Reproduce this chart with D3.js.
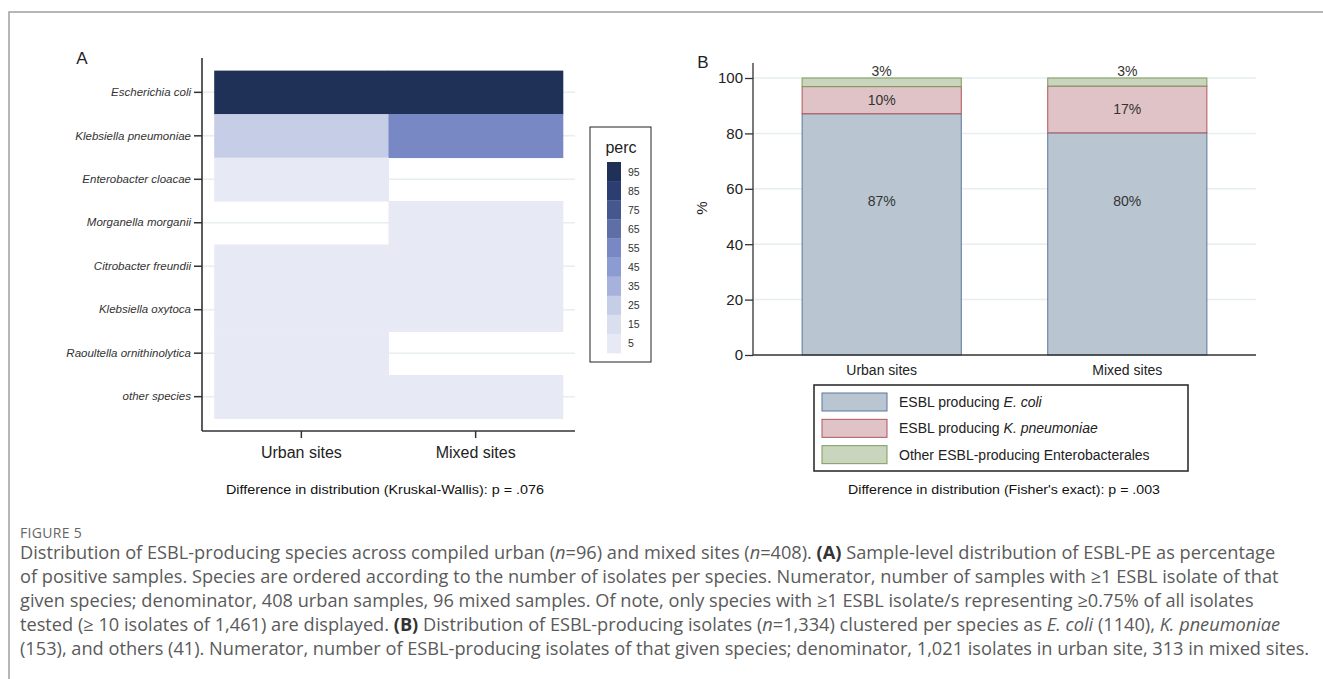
<!DOCTYPE html>
<html>
<head>
<meta charset="utf-8">
<script src="https://cdn.jsdelivr.net/npm/d3@7"></script>
<style>
  body { margin: 0; background: #fff; }
  svg { display: block; font-family: "Liberation Sans", Arial, sans-serif; }
</style>
</head>
<body>
<svg id="fig" width="1323" height="679"></svg>
<script>
// ---- panel A data: % of positive samples per species ----
const species = ['Escherichia coli', 'Klebsiella pneumoniae', 'Enterobacter cloacae',
  'Morganella morganii', 'Citrobacter freundii', 'Klebsiella oxytoca',
  'Raoultella ornithinolytica', 'other species'];
const sitesA = ['Urban sites', 'Mixed sites'];
const urbanPerc = [94, 22, 4, null, 3, 3, 2, 3];
const mixedPerc = [93, 52, null, 4, 3, 5, null, 6];
const percBins = [5, 15, 25, 35, 45, 55, 65, 75, 85, 95];
const percColors = ['#e7e9f5', '#dadff0', '#c6cde6', '#a7b2dc', '#8b9cd2',
  '#7788c4', '#5e6fa8', '#45578f', '#2c3e71', '#1f3157'];

// ---- panel B data: % of ESBL-producing isolates ----
const sitesB = ['Urban sites', 'Mixed sites'];
const groups = ['ecoli', 'kpneu', 'other'];
const ecoliPct = [87.1, 80.2];
const kpneuPct = [9.8, 16.9];
const otherPct = [3.1, 2.9];
const yTicksB = [0, 20, 40, 60, 80, 100];
const groupFill = ['#b9c6d2', '#dfc3c6', '#c9d6bd'];
const groupStroke = ['#5a769c', '#b0545b', '#7f9a5c'];

const svg = d3.select('#fig');
const axisCol = '#333';
const gridCol = '#e6eeee';

// outer frame of the figure
svg.append('path')
  .attr('d', 'M9,679V12H1323')
  .attr('fill', 'none')
  .attr('stroke', '#a0a0a0')
  .attr('stroke-width', 1.5);

// ================= PANEL A =================
const A = {l: 202, r: 575, t: 58, b: 431};
const gA = svg.append('g');

const xA = d3.scaleBand().domain(sitesA).range([A.l, A.r]).paddingOuter(0.07).paddingInner(0);
const yA = d3.scaleBand().domain(species).range([A.t, A.b]).paddingOuter(0.29).paddingInner(0);
const colA = d3.scaleQuantize().domain([0, 100]).range(percColors);

// grid lines at row centres
gA.selectAll('.gridA').data(species).join('line')
  .attr('x1', A.l).attr('x2', A.r)
  .attr('y1', d => yA(d) + yA.bandwidth() / 2)
  .attr('y2', d => yA(d) + yA.bandwidth() / 2)
  .attr('stroke', gridCol).attr('stroke-width', 1.5);

const cells = [];
species.forEach((s, i) => {
  if (urbanPerc[i] != null) cells.push({site: sitesA[0], sp: s, v: urbanPerc[i]});
  if (mixedPerc[i] != null) cells.push({site: sitesA[1], sp: s, v: mixedPerc[i]});
});
gA.selectAll('.cell').data(cells).join('rect')
  .attr('x', d => xA(d.site))
  .attr('y', d => yA(d.sp))
  .attr('width', xA.bandwidth() + 0.5)
  .attr('height', yA.bandwidth() + 0.5)
  .attr('fill', d => colA(d.v));

// y axis
const yAxisA = gA.append('g')
  .attr('transform', `translate(${A.l},0)`)
  .call(d3.axisLeft(yA).tickSize(8).tickPadding(3));
yAxisA.select('.domain').attr('d', `M0,${A.t}V${A.b}`).attr('stroke', axisCol).attr('stroke-width', 1.6);
yAxisA.selectAll('.tick line').attr('stroke', axisCol).attr('stroke-width', 1.5);
yAxisA.selectAll('.tick text')
  .attr('font-size', 11.5).attr('font-style', 'italic').attr('fill', '#333')
  .attr('font-family', '"Liberation Sans", Arial, sans-serif');

// x axis
const xAxisA = gA.append('g')
  .attr('transform', `translate(0,${A.b})`)
  .call(d3.axisBottom(xA).tickSize(7).tickPadding(9));
xAxisA.select('.domain').attr('d', `M${A.l},0H${A.r}`).attr('stroke', axisCol).attr('stroke-width', 1.6);
xAxisA.selectAll('.tick line').attr('stroke', axisCol).attr('stroke-width', 1.5);
xAxisA.selectAll('.tick text')
  .attr('font-size', 16).attr('fill', '#222')
  .attr('font-family', '"Liberation Sans", Arial, sans-serif');

gA.append('text').attr('x', 82).attr('y', 64).attr('text-anchor', 'middle')
  .attr('font-size', 17).attr('fill', '#222').text('A');

// legend "perc"
const legA = gA.append('g').attr('transform', 'translate(590,127)');
legA.append('rect').attr('width', 61).attr('height', 235)
  .attr('fill', '#fff').attr('stroke', '#222').attr('stroke-width', 1);
legA.append('text').attr('x', 31).attr('y', 26).attr('text-anchor', 'middle')
  .attr('font-size', 16).attr('fill', '#222').text('perc');
const legScale = d3.scaleBand().domain(percBins.slice().reverse()).range([35, 226]);
legA.selectAll('.sw').data(percBins.slice().reverse()).join('rect')
  .attr('x', 17).attr('y', d => legScale(d))
  .attr('width', 14).attr('height', legScale.bandwidth() + 0.3)
  .attr('fill', d => colA(d));
legA.selectAll('.swl').data(percBins.slice().reverse()).join('text')
  .attr('x', 38).attr('y', d => legScale(d) + legScale.bandwidth() / 2 + 4)
  .attr('font-size', 10.5).attr('fill', '#333').text(d => d);

gA.append('text').attr('x', 385).attr('y', 494).attr('text-anchor', 'middle')
  .attr('font-size', 13).attr('textLength', 318).attr('lengthAdjust', 'spacingAndGlyphs')
  .attr('fill', '#111').text('Difference in distribution (Kruskal-Wallis): p = .076');

// ================= PANEL B =================
const B = {l: 753, r: 1256, t: 63, b: 355};
const gB = svg.append('g');

const xB = d3.scaleBand().domain(sitesB).range([B.l, B.r]).paddingInner(0.352).paddingOuter(0.2);
const yB = d3.scaleLinear().domain([0, 100]).range([B.b, 78]);

gB.selectAll('.gridB').data(yTicksB.slice(1)).join('line')
  .attr('x1', B.l).attr('x2', B.r)
  .attr('y1', d => yB(d)).attr('y2', d => yB(d))
  .attr('stroke', gridCol).attr('stroke-width', 1.5);

const tableB = sitesB.map((s, i) => ({site: s, ecoli: ecoliPct[i], kpneu: kpneuPct[i], other: otherPct[i]}));
const stacked = d3.stack().keys(groups)(tableB);

const segs = gB.selectAll('.layer').data(stacked).join('g');
segs.selectAll('rect').data((d, gi) => d.map(p => ({p, gi}))).join('rect')
  .attr('x', d => xB(d.p.data.site))
  .attr('y', d => yB(d.p[1]))
  .attr('width', xB.bandwidth())
  .attr('height', d => yB(d.p[0]) - yB(d.p[1]))
  .attr('fill', d => groupFill[d.gi])
  .attr('stroke', d => groupStroke[d.gi])
  .attr('stroke-width', 1);

// bar labels
segs.selectAll('text').data((d, gi) => d.map(p => ({p, gi}))).join('text')
  .attr('x', d => xB(d.p.data.site) + xB.bandwidth() / 2)
  .attr('y', d => {
    const v = d.p[1] - d.p[0];
    if (v < 5) return yB(d.p[1]) - 2;            // small slice: above the bar
    if (v > 50) return yB(55.5) + 5;              // large base slice
    return yB((d.p[0] + d.p[1]) / 2) + 5;
  })
  .attr('text-anchor', 'middle').attr('font-size', 14).attr('fill', '#333')
  .text(d => Math.round(d.p[1] - d.p[0]) + '%');

const yAxisB = gB.append('g')
  .attr('transform', `translate(${B.l},0)`)
  .call(d3.axisLeft(yB).tickValues(yTicksB).tickSize(8).tickPadding(2));
yAxisB.select('.domain').attr('d', `M0,${B.t}V${B.b}`).attr('stroke', axisCol).attr('stroke-width', 1.3);
yAxisB.selectAll('.tick line').attr('stroke', axisCol).attr('stroke-width', 1.3);
yAxisB.selectAll('.tick text').attr('font-size', 15).attr('fill', '#222')
  .attr('font-family', '"Liberation Sans", Arial, sans-serif');

const xAxisB = gB.append('g')
  .attr('transform', `translate(0,${B.b})`)
  .call(d3.axisBottom(xB).tickSize(0).tickPadding(10));
xAxisB.select('.domain').attr('d', `M${B.l},0H${B.r}`).attr('stroke', axisCol).attr('stroke-width', 1.3);
xAxisB.selectAll('.tick text').attr('font-size', 14).attr('fill', '#222')
  .attr('font-family', '"Liberation Sans", Arial, sans-serif');

gB.append('text').attr('x', 703).attr('y', 68).attr('text-anchor', 'middle')
  .attr('font-size', 17).attr('fill', '#222').text('B');
gB.append('text').attr('transform', 'translate(707,208) rotate(-90)')
  .attr('text-anchor', 'middle').attr('font-size', 15).attr('fill', '#222').text('%');

// legend B
const legItems = [
  [['ESBL producing ', false], ['E. coli', true]],
  [['ESBL producing ', false], ['K. pneumoniae', true]],
  [['Other ESBL-producing Enterobacterales', false]]
];
const legB = gB.append('g').attr('transform', 'translate(814,385)');
legB.append('rect').attr('width', 374).attr('height', 86)
  .attr('fill', '#fff').attr('stroke', '#222').attr('stroke-width', 1.5);
const legRow = d3.scaleBand().domain(groups).range([5, 84]);
groups.forEach((g, i) => {
  legB.append('rect').attr('x', 8).attr('y', legRow(g) + 3)
    .attr('width', 65).attr('height', 18)
    .attr('fill', groupFill[i]).attr('stroke', groupStroke[i]).attr('stroke-width', 1);
  const t = legB.append('text').attr('x', 85).attr('y', legRow(g) + 17)
    .attr('font-size', 14).attr('fill', '#222');
  legItems[i].forEach(([s, it]) => t.append('tspan').attr('font-style', it ? 'italic' : 'normal').text(s));
});

gB.append('text').attr('x', 1004).attr('y', 494).attr('text-anchor', 'middle')
  .attr('font-size', 13).attr('textLength', 312).attr('lengthAdjust', 'spacingAndGlyphs')
  .attr('fill', '#111').text("Difference in distribution (Fisher's exact): p = .003");

// ================= CAPTION =================
const capFont = '"Open Sans", "Noto Sans", sans-serif';
svg.append('text').attr('x', 20).attr('y', 538).attr('font-family', capFont)
  .attr('font-size', 14).attr('fill', '#666').attr('letter-spacing', 0.3).text('FIGURE 5');

const capLines = [
  [['Distribution of ESBL-producing species across compiled urban (', ''], ['n', 'i'], ['=96) and mixed sites (', ''], ['n', 'i'], ['=408). ', ''], ['(A)', 'b'], [' Sample-level distribution of ESBL-PE as percentage', '']],
  [['of positive samples. Species are ordered according to the number of isolates per species. Numerator, number of samples with \u22651 ESBL isolate of that', '']],
  [['given species; denominator, 408 urban samples, 96 mixed samples. Of note, only species with \u22651 ESBL isolate/s representing \u22650.75% of all isolates', '']],
  [['tested (\u2265 10 isolates of 1,461) are displayed. ', ''], ['(B)', 'b'], [' Distribution of ESBL-producing isolates (', ''], ['n', 'i'], ['=1,334) clustered per species as ', ''], ['E. coli', 'i'], [' (1140), ', ''], ['K. pneumoniae', 'i']],
  [['(153), and others (41). Numerator, number of ESBL-producing isolates of that given species; denominator, 1,021 isolates in urban site, 313 in mixed sites.', '']]
];
const capY = d3.scaleLinear().domain([0, 4]).range([559, 655]);
capLines.forEach((parts, i) => {
  const t = svg.append('text').attr('x', 20).attr('y', capY(i))
    .attr('font-family', capFont).attr('font-size', 18.2).attr('fill', '#5a5a5a');
  parts.forEach(([s, f]) => t.append('tspan')
    .attr('font-style', f === 'i' ? 'italic' : 'normal')
    .attr('font-weight', f === 'b' ? 'bold' : 'normal')
    .attr('fill', f === 'b' ? '#333' : null)
    .text(s));
});
</script>
</body>
</html>
